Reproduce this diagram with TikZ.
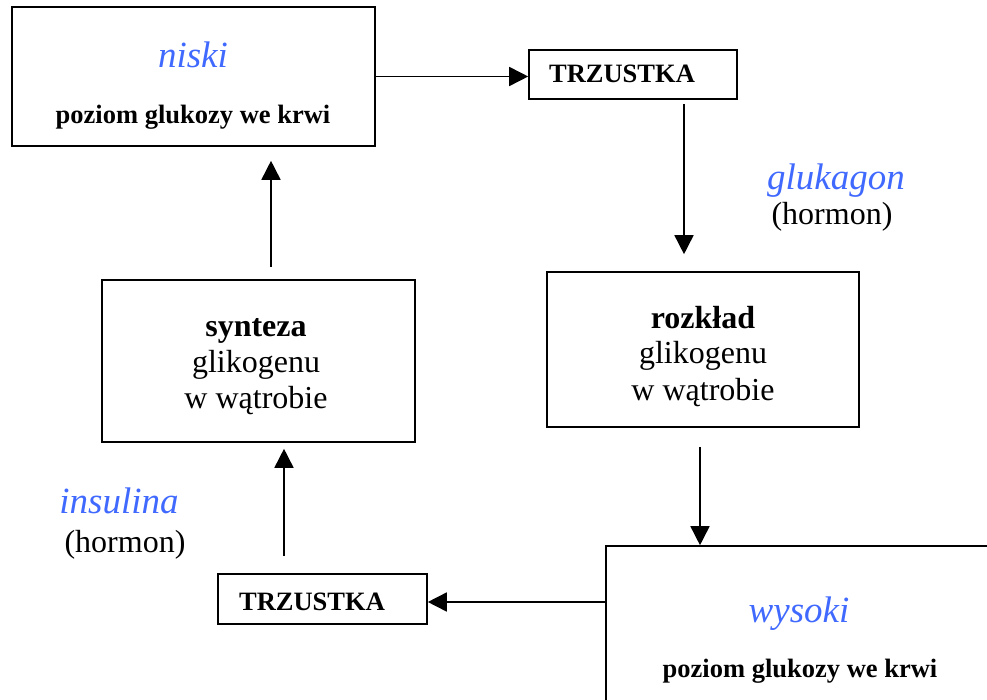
\documentclass[tikz,border=0pt]{standalone}
\usepackage{fontspec}
\setmainfont{Liberation Serif}
\usetikzlibrary{arrows.meta}
\definecolor{hormblue}{RGB}{64,105,255}

\begin{document}
\begin{tikzpicture}[x=1pt,y=-1pt,line width=1.6pt,
  every path/.style={>={Triangle[length=19pt,width=19pt]}},
  box/.style={draw,rectangle,inner sep=0pt},
  lvl/.style={anchor=base,text=hormblue,font=\fontsize{37}{44}\selectfont\itshape},
  small/.style={anchor=base,font=\fontsize{26.5}{30}\selectfont\bfseries},
  big/.style={anchor=base,font=\fontsize{32}{36}\selectfont}]
\useasboundingbox (0,0) rectangle (987,700);
\clip (0,0) rectangle (987,700);
% boxes
\node[box,minimum width=363pt,minimum height=139pt] (niski)   at (193.5,76.5) {};
\node[box,minimum width=208pt,minimum height=49pt]  (tr1)     at (633,74.5)   {};
\node[box,minimum width=312pt,minimum height=155pt] (rozklad) at (703,349.5)  {};
\node[box,minimum width=394pt,minimum height=174pt] (wysoki)  at (803,633)    {};
\node[box,minimum width=209pt,minimum height=50pt]  (tr2)     at (322.5,599)  {};
\node[box,minimum width=313pt,minimum height=162pt] (synteza) at (258.5,361)  {};
% texts
\node[lvl]   (niskiA)   at (193,68)  {niski};
\node[small] (niskiB)   at (193,124) {poziom glukozy we krwi};
\node[small] (tr1A)     at (622,83)  {TRZUSTKA};
\node[lvl]   (glukA)    at (836,190) {glukagon};
\node[big]   (glukB)    at (832,225) {(hormon)};
\node[big]   (rozkladA) at (703,328) {\bfseries rozkład};
\node[big]   (rozkladB) at (703,363) {glikogenu};
\node[big]   (rozkladC) at (703,400) {w wątrobie};
\node[lvl]   (wysokiA)  at (799,622) {wysoki};
\node[small] (wysokiB)  at (800,677) {poziom glukozy we krwi};
\node[small] (tr2A)     at (312,610) {TRZUSTKA};
\node[lvl]   (insA)     at (119,513) {insulina};
\node[big]   (insB)     at (125,552) {(hormon)};
\node[big]   (syntezaA) at (256,337) {\bfseries synteza};
\node[big]   (syntezaB) at (256,372) {glikogenu};
\node[big]   (syntezaC) at (256,408) {w wątrobie};
% arrows
\coordinate (ins) at ([yshift=-3pt]tr2.east);
\draw[->] (niski.east) -- (niski.east -| tr1.west);
\draw[->] ([xshift=51pt,yshift=-4pt]tr1.south) -- ([xshift=-19pt,yshift=17pt]rozklad.north);
\draw[->] ([xshift=-3pt,yshift=-19pt]rozklad.south) -- ([xshift=-103pt]wysoki.north);
\draw[->] (ins -| wysoki.west) -- (ins);
\draw[->] ([xshift=-38.5pt,yshift=17pt]tr2.north) -- ([xshift=25.5pt,yshift=-6pt]synteza.south);
\draw[->] ([xshift=12.5pt,yshift=12pt]synteza.north) -- ([xshift=77.5pt,yshift=-14pt]niski.south);
\end{tikzpicture}
\end{document}
